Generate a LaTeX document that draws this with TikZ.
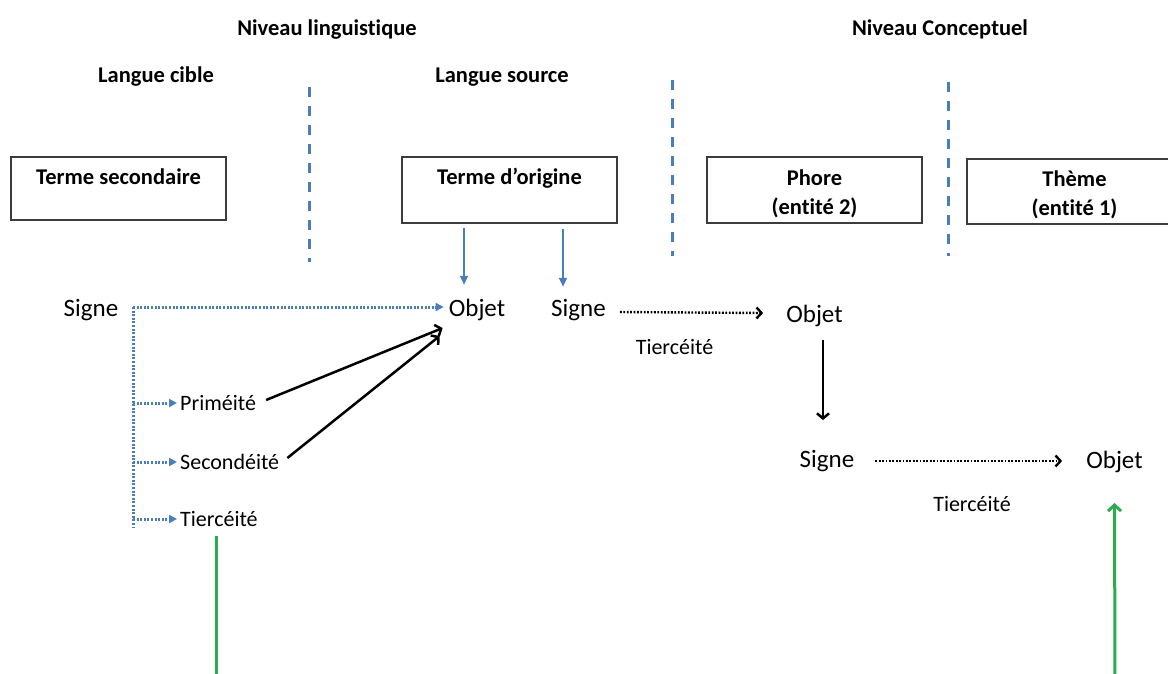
\documentclass[tikz,border=0pt]{standalone}
\usepackage{fontspec}
\setmainfont{Carlito}[Ligatures=NoCommon]
\usetikzlibrary{arrows.meta}
\definecolor{dblue}{RGB}{74,126,187}
\definecolor{dgreen}{RGB}{44,170,78}
\definecolor{boxline}{RGB}{60,60,60}
\begin{document}
\begin{tikzpicture}[x=1pt,y=-1pt,
  lab/.style={inner sep=0pt, anchor=base, font=\fontsize{25}{30}\selectfont},
  small/.style={inner sep=0pt, anchor=base, font=\fontsize{22}{26}\selectfont},
  smallw/.style={inner sep=0pt, anchor=base west, font=\fontsize{22}{26}\selectfont},
  head/.style={inner sep=0pt, anchor=base, font=\fontsize{22.5}{27}\selectfont\bfseries},
  boxnode/.style={draw=boxline, line width=1.5pt, minimum width=215pt, inner sep=0pt},
  sepline/.style={dblue, line width=3pt, dash pattern=on 10pt off 9pt},
  bdot/.style={dblue, line width=3pt, dash pattern=on 2pt off 1.6pt},
  bdotarr/.style={bdot, -{Triangle[length=8pt,width=8pt]}},
  kdotarr/.style={black, line width=2.4pt, dash pattern=on 1.8pt off 1.6pt, -{Straight Barb[length=5pt,width=11pt,line width=2.4pt]}},
  karr/.style={black, line width=2.5pt, -{Straight Barb[length=5pt,width=12pt,line width=2.5pt]}},
  bluearr/.style={dblue, line width=2.2pt, -{Triangle[length=9pt,width=8pt]}},
  garr/.style={dgreen, line width=3pt, -{Straight Barb[length=6pt,width=13pt,line width=3pt]}},
  gline/.style={dgreen, line width=3pt}
]
\useasboundingbox (0,0) rectangle (1168,673);
\clip (0,0) rectangle (1168,673);

% headings
\node[head] (nl) at (327,35) {Niveau linguistique};
\node[head] (nc) at (940,35) {Niveau Conceptuel};
\node[head] (lc) at (156,82) {Langue cible};
\node[head] (ls) at (502,82) {Langue source};

% separators
\draw[sepline] (309,87) -- (309,262);
\draw[sepline] (672,80) -- (672,256);
\draw[sepline] (948,82) -- (948,256);

% boxes
\node[boxnode, minimum height=63pt] (b1) at (118.5,188.5) {};
\node[boxnode, minimum height=66pt] (b2) at (509.5,190) {};
\node[boxnode, minimum height=66pt] (b3) at (814.5,190) {};
\node[boxnode, minimum height=65pt] (b4) at (1074.5,191.5) {};
\node[head] (t1) at (118.5,184) {Terme secondaire};
\node[head] (t2) at (509.5,184) {Terme d’origine};
\node[head] (t3a) at (814.5,185) {Phore};
\node[head] (t3b) at (814.5,214) {(entité 2)};
\node[head] (t4a) at (1074.5,186) {Thème};
\node[head] (t4b) at (1074.5,215) {(entité 1)};

% main labels
\node[lab] (s1) at (91,316) {Signe};
\node[lab] (o1) at (477,316) {Objet};
\node[lab] (s2) at (578.5,316) {Signe};
\node[lab] (o2) at (814.5,322) {Objet};
\node[lab] (s3) at (827,467) {Signe};
\node[lab] (o3) at (1114.5,468) {Objet};
\node[small] (ti2) at (674.5,354) {Tiercéité};
\node[small] (ti3) at (972,511) {Tiercéité};
\node[smallw] (pr) at (180,410) {Priméité};
\node[smallw] (se) at (180,469) {Secondéité};
\node[smallw] (ti1) at (180,526) {Tiercéité};

% blue arrows from Terme d'origine
\draw[bluearr] ([xshift=-45.5pt,yshift=-4pt]b2.south) -- ++(0,57);
\draw[bluearr] ([xshift=53.5pt,yshift=-5pt]b2.south) -- ++(0,58);

% blue dotted tree
\coordinate (tr) at (133,307);
\coordinate (trend) at (133,528);
\draw[bdot] (tr) -- (trend);
\draw[bdotarr, shorten >=5pt] (tr) -- (o1.west |- tr);
\draw[bdotarr, shorten >=3pt] (tr |- 0,403) -- (pr.west |- 0,403);
\draw[bdotarr, shorten >=3pt] (tr |- 0,462) -- (se.west |- 0,462);
\draw[bdotarr, shorten >=3pt] (tr |- 0,519) -- (ti1.west |- 0,519);

% black arrows to Objet
\draw[karr] ([xshift=10pt,yshift=10pt]pr.base east) -- ([xshift=-6pt,yshift=-12pt]o1.base west);
\draw[karr] ([xshift=8pt,yshift=11pt]se.base east) -- ([xshift=-9pt,yshift=-20pt]o1.base west);

% right part
\draw[kdotarr] ([xshift=14pt,yshift=4pt]s2.base east) -- ([xshift=-23pt,yshift=9pt]o2.base west);
\draw[karr] ([xshift=8.5pt,yshift=-18pt]o2.base) -- ([xshift=8.5pt,yshift=-98pt]o2.base);
\draw[kdotarr] ([xshift=21pt,yshift=6pt]s3.base east) -- ([xshift=-24pt,yshift=7pt]o3.base west);

% green lines
\coordinate (gl) at (216,536);
\coordinate (glend) at (216,680);
\draw[gline] (gl) -- (glend);
\coordinate (gr) at (1115,680);
\draw[garr] (gr) -- ([yshift=-35pt]o3.base);
\end{tikzpicture}
\end{document}
